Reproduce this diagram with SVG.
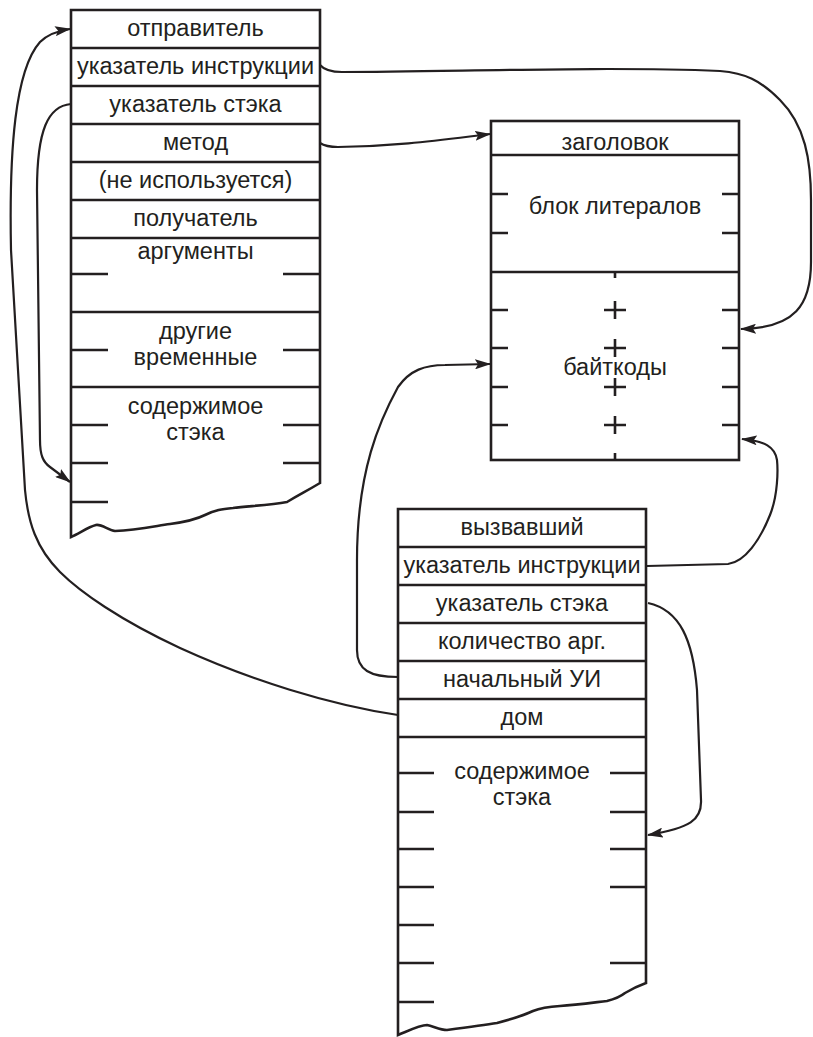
<svg xmlns="http://www.w3.org/2000/svg" width="813" height="1037" viewBox="0 0 813 1037">
<defs>
<style>
.box{fill:#fff;stroke:#231f20;stroke-width:2.6;stroke-linejoin:miter}
.ln{fill:none;stroke:#231f20;stroke-width:2.6}
.c{fill:none;stroke:#231f20;stroke-width:2.2}
text{font-family:"Liberation Sans",Arial,sans-serif;font-size:23.5px;fill:#231f20;text-anchor:middle}
</style>
<marker id="ah" viewBox="0 0 16 10" refX="15" refY="5" markerWidth="16" markerHeight="10" markerUnits="userSpaceOnUse" orient="auto">
<path d="M0,0 L16,5 L0,10 L3,5 Z" fill="#231f20"/>
</marker>
</defs>
<rect width="813" height="1037" fill="#fff"/>

<g id="sender-context">
<path class="box" d="M71,537 L71,10 L320,10 L320,483 C305,492 300,494 287,502 C270,505 250,506 233,508 C222,509 215,510 205,515 C195,520 185,522 170,524 C150,527 135,530 115,531 C108,530 102,524 96,525 C88,527 80,533 71,537 Z"/>
<path class="ln" d="M71,48H320M71,86H320M71,124H320M71,162H320M71,200H320M71,238H320M71,312H320M71,387H320"/>
<path class="ln" d="M71,274H108M283,274H320M71,350H108M283,350H320M71,425H108M283,425H320M71,463H108M283,463H320M71,502H108"/>
<text x="195.5" y="36">отправитель</text>
<text x="195.5" y="74">указатель инструкции</text>
<text x="195.5" y="112">указатель стэка</text>
<text x="195.5" y="150">метод</text>
<text x="195.5" y="188">(не используется)</text>
<text x="195.5" y="226">получатель</text>
<text x="195.5" y="259">аргументы</text>
<text x="195.5" y="339">другие</text>
<text x="195.5" y="365">временные</text>
<text x="195.5" y="414">содержимое</text>
<text x="195.5" y="440">стэка</text>
</g>

<g id="method">
<rect class="box" x="491" y="121" width="248" height="339"/>
<path class="ln" d="M491,155H739M491,272H739"/>
<path class="ln" d="M491,194H508M722,194H739M491,233H508M722,233H739M491,310H508M722,310H739M491,348H508M722,348H739M491,387H508M722,387H739M491,425H508M722,425H739"/>
<path class="ln" d="M615,272V278M615,453V460M604,310H626M615,301V319M604,348H626M615,339V357M604,387H626M615,378V396M604,425H626M615,416V434"/>
<text x="615" y="150">заголовок</text>
<text x="615" y="214">блок литералов</text>
<text x="615" y="375">байткоды</text>
</g>

<g id="caller-context">
<path class="box" d="M398,1035 L398,509 L646,509 L646,983 C635,987 630,990 625,993 C620,997 615,999 607,1001 C590,1003 575,1005 560,1006 C545,1007 538,1009 533,1011 C525,1015 512,1019 497,1023 C485,1025 470,1027 447,1030 C440,1030 433,1026 427,1025 C420,1025 410,1030 398,1035 Z"/>
<path class="ln" d="M398,547H646M398,585H646M398,623H646M398,661H646M398,699H646M398,737H646"/>
<path class="ln" d="M398,773H434M610,773H646M398,812H434M610,812H646M398,849H434M610,849H646M398,887H434M610,887H646M398,925H434M398,963H434M610,963H646M398,1002H434"/>
<text x="522" y="535">вызвавший</text>
<text x="522" y="573">указатель инструкции</text>
<text x="522" y="611">указатель стэка</text>
<text x="522" y="649">количество арг.</text>
<text x="522" y="687">начальный УИ</text>
<text x="522" y="725">дом</text>
<text x="522" y="779">содержимое</text>
<text x="522" y="805">стэка</text>
</g>

<g id="connectors">
<path class="c" marker-end="url(#ah)" d="M320,65 Q326,72 342,72 C450,72 600,66 720,71 C745,73 760,80 780,100 C805,125 811,160 811,200 L811,262 C811,305 795,328 741,329"/>
<path class="c" marker-end="url(#ah)" d="M320,143 Q326,147 338,147 C400,146 440,140 490,134"/>
<path class="c" marker-end="url(#ah)" d="M71,104 C48,106 37,130 37,190 L40,440 C40,455 43,462 50,467 L70,482"/>
<path class="c" marker-end="url(#ah)" d="M398,715 C330,705 250,680 180,648 C120,620 80,592 60,572 C36,548 28,522 25,490 L11,250 C9,150 15,70 40,42 Q50,32 70,29"/>
<path class="c" marker-end="url(#ah)" d="M398,677 C370,677 357,670 357,650 L357,560 C357,470 380,420 398,387 C410,370 425,365 445,365 L490,364"/>
<path class="c" marker-end="url(#ah)" d="M647,566 L728,564 C745,562 760,540 770,515 C778,495 778,470 777,460 C775,447 765,441 742,439"/>
<path class="c" marker-end="url(#ah)" d="M648,603 C680,610 693,640 697,690 L701,800 C702,820 690,828 648,835"/>
</g>
</svg>
